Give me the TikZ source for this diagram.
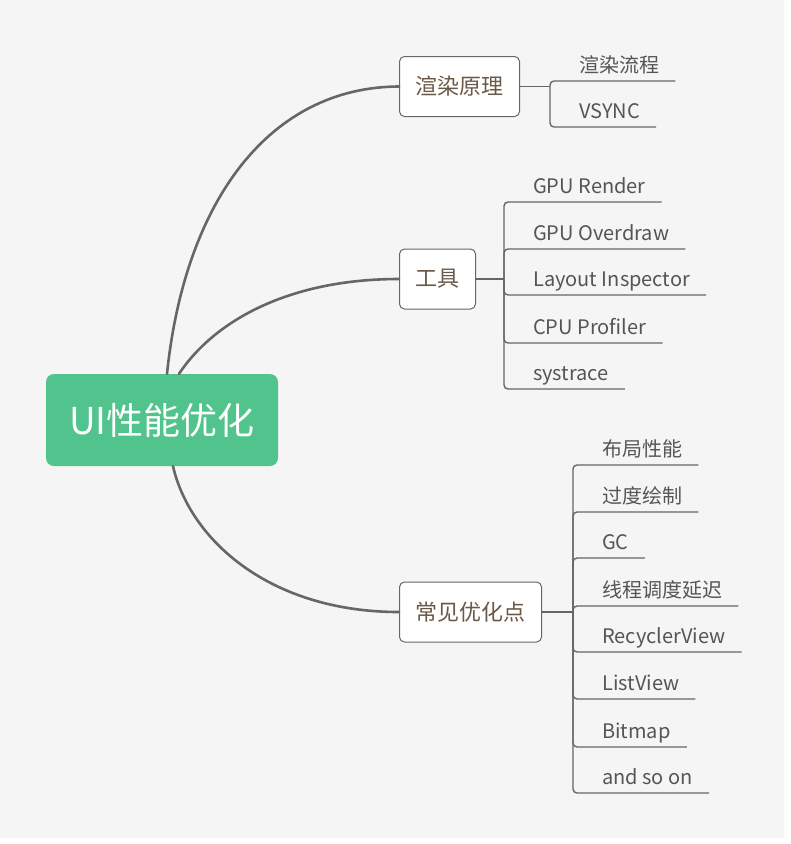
\documentclass[tikz,border=0pt]{standalone}
\usepackage{fontspec}
\setmainfont{Noto Sans CJK SC}
\definecolor{bgGray}{HTML}{F5F5F5}
\definecolor{lineGray}{HTML}{666666}
\definecolor{rootGreen}{HTML}{50C48C}
\definecolor{topicBrown}{HTML}{6B5846}
\definecolor{leafGray}{HTML}{555555}
\begin{document}
\begin{tikzpicture}[x=1pt,y=-1pt,
  rootBox/.style={rounded corners=8pt, fill=rootGreen, text=white,
    minimum width=232pt, minimum height=92pt, font=\fontsize{37pt}{42pt}\selectfont},
  topicBox/.style={rounded corners=5pt, draw=lineGray, line width=1pt, fill=white,
    text=topicBrown, inner xsep=16pt, minimum height=60pt, anchor=west,
    font=\fontsize{22pt}{26pt}\selectfont},
  leafText/.style={inner xsep=16pt, inner ysep=0pt, text height=15pt, text depth=8pt,
    anchor=south west, text=leafGray, font=\fontsize{20pt}{24pt}\selectfont},
  mainCurve/.style={draw=lineGray, line width=2.6pt, line cap=round},
  hubLine/.style={draw=lineGray, line width=1.8pt},
  leafLine/.style={draw=lineGray, line width=1.4pt, rounded corners=4pt}]
  %% Background and page size
  \fill[white] (0,0) rectangle (791,844);
  \fill[bgGray] (0,0) rectangle (784,838);
  \useasboundingbox (0,0) rectangle (791,844);
  %% Central topic
  \node[rootBox] (root) at (162,420) {UI性能优化};
  %% Main topics
  \node[topicBox] (render) at (399,86.5) {渲染原理};
  \node[topicBox] (tools) at (399,279) {工具};
  \node[topicBox] (common) at (399,612) {常见优化点};
  %% Curves from the centre
  \draw[mainCurve] ([xshift=5pt]root.north) .. controls (185,200) and (270,87) .. (render.west);
  \draw[mainCurve] ([xshift=17pt]root.north) .. controls (215,320) and (290,279) .. (tools.west);
  \draw[mainCurve] ([xshift=11pt]root.south) .. controls (190,540) and (270,612) .. (common.west);
  %% Hubs of the sub branches
  \coordinate (renderHub) at (550,86.5);
  \coordinate (toolsHub) at (504,279);
  \coordinate (commonHub) at (573,612);
  \draw[hubLine] (render.east) -- (renderHub);
  \draw[hubLine] (tools.east) -- (toolsHub);
  \draw[hubLine] (common.east) -- (commonHub);
  %% Leaves
  \foreach \name/\y/\txt in {flow/81/渲染流程, vsync/127/VSYNC}{
    \node[leafText] (\name) at (563,\y) {\txt};
    \draw[leafLine] (renderHub) |- (\name.south east);
  }
  \foreach \name/\y/\txt in {gpuRender/202/GPU Render, gpuOverdraw/249/GPU Overdraw,
      layoutInspector/295/Layout Inspector, cpuProfiler/343/CPU Profiler, systrace/389/systrace}{
    \node[leafText] (\name) at (517,\y) {\txt};
    \draw[leafLine] (toolsHub) |- (\name.south east);
  }
  \foreach \name/\y/\txt in {layout/465/布局性能, overdraw/512/过度绘制, gc/558/GC,
      threadDelay/606/线程调度延迟, recycler/652/RecyclerView, listView/699/ListView,
      bitmap/747/Bitmap, andSoOn/793/and so on}{
    \node[leafText] (\name) at (586,\y) {\txt};
    \draw[leafLine] (commonHub) |- (\name.south east);
  }
\end{tikzpicture}
\end{document}
